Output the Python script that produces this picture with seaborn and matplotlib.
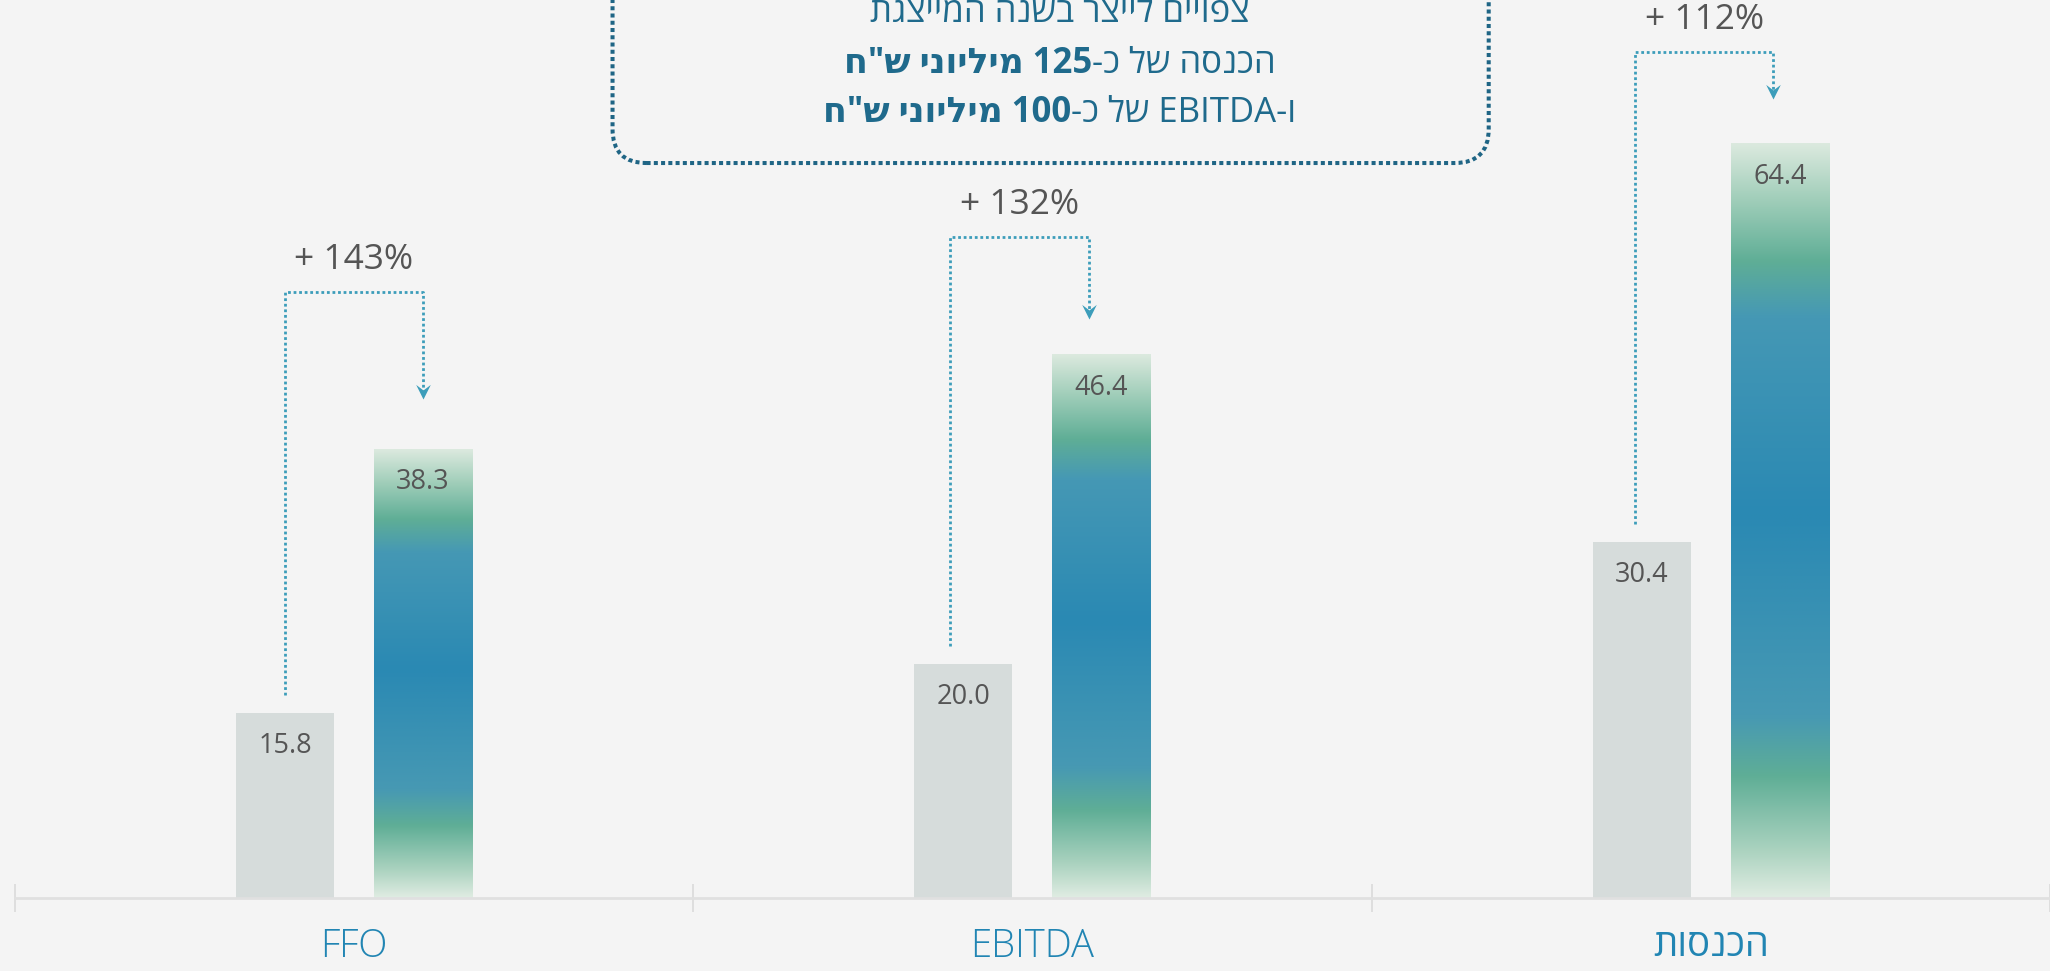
import re
import numpy as np
import pandas as pd
import seaborn as sns
import matplotlib.pyplot as plt
from matplotlib.colors import LinearSegmentedColormap
from matplotlib.patches import FancyBboxPatch
from matplotlib.path import Path

# chart values
categories = ['FFO', 'EBITDA', 'הכנסות']
series_names = ['current', 'representative']
current = [15.8, 20.0, 30.4]
representative = [38.3, 46.4, 64.4]
growth_labels = ['+ 143%', '+ 132%', '+ 112%']

# callout text, logical order; (regular part, bold part)
note_line1 = 'צפויים לייצר בשנה המייצגת'
note_lines = [('הכנסה של כ-', '125 מיליוני ש"ח'),
              ('ו-EBITDA של כ-', '100 מיליוני ש"ח')]

# bracket layout (value units relative to the bars)
bracket_rise = [13.4, 10.0, 7.8]
tip_gap = [4.3, 3.0, 3.8]
bracket_dx = [0.0, -0.019, -0.0095]

BG = '#f4f4f4'
GREY = '#d6dcdb'
TEAL = '#3c9dba'
TEXT = '#555555'
BOX = '#1f6585'
NOTE = '#1f6a8c'
CAT = '#2185b3'
FONT = ['Open Sans', 'DejaVu Sans']


def rtl(s):
    # matplotlib has no bidi support: flip the string, keep latin/digit runs LTR
    r = s[::-1]
    return re.sub(r'[A-Za-z0-9.%]+', lambda m: m.group(0)[::-1], r)


sns.set_style('white')
plt.rcParams['font.family'] = FONT

df = pd.DataFrame({
    'category': categories * 2,
    'series': [series_names[0]] * 3 + [series_names[1]] * 3,
    'value': current + representative,
})

fig = plt.figure(figsize=(20.5, 9.71), dpi=100)
fig.patch.set_facecolor(BG)
ax = fig.add_axes([0, 0, 1, 1])
ax.set_facecolor(BG)

sns.barplot(data=df, x='category', y='value', hue='series', order=categories,
            hue_order=series_names, palette=[GREY, '#2a89b3'], saturation=1,
            width=0.407, gap=0.288, linewidth=0, errorbar=None, legend=False, ax=ax)

# vertical gradient on the representative-year bars
grad = LinearSegmentedColormap.from_list('bar', [
    (0.0, '#dfece2'), (0.06, '#acd3c0'), (0.16, '#5fae96'), (0.24, '#4799b3'),
    (0.51, '#2a89b3'), (0.77, '#4598b5'), (0.845, '#5fae96'), (0.93, '#a3cfbb'),
    (1.0, '#dbe9de')])
ramp = np.linspace(0, 1, 256).reshape(-1, 1)
for bar in ax.containers[1]:
    x0, w, h = bar.get_x(), bar.get_width(), bar.get_height()
    im = ax.imshow(ramp, cmap=grad, origin='lower', aspect='auto',
                   extent=(x0, x0 + w, 0, h), interpolation='bilinear',
                   zorder=bar.get_zorder() + 0.1)
    im.set_clip_path(bar)

# value labels inside the bars
for cont in ax.containers:
    for bar in cont:
        ax.annotate(f'{bar.get_height():.1f}',
                    (bar.get_x() + bar.get_width() / 2, bar.get_height()),
                    xytext=(0, -24), textcoords='offset points', ha='center',
                    va='center', fontsize=19.5, color=TEXT, zorder=5)

# growth brackets
head = Path([(0, 0), (-0.5, 1), (0, 0.62), (0.5, 1), (0, 0)],
            [Path.MOVETO, Path.LINETO, Path.LINETO, Path.LINETO, Path.CLOSEPOLY])
for i, (g, b) in enumerate(zip(ax.containers[0], ax.containers[1])):
    xl = g.get_x() + g.get_width() / 2 + bracket_dx[i]
    xr = b.get_x() + b.get_width() / 2 + bracket_dx[i]
    y0 = g.get_height() + 1.5
    ytop = b.get_height() + bracket_rise[i]
    ytip = b.get_height() + tip_gap[i]
    ax.plot([xl, xl, xr, xr], [y0, ytop, ytop, ytip + 0.6], color=TEAL, lw=2.0,
            ls=(0, (1, 1.0)), dash_capstyle='butt', zorder=4)
    ax.plot([xr], [ytip], marker=head, ms=21, mew=0, color=TEAL, ls='none', zorder=4)
    ax.annotate(growth_labels[i], ((xl + xr) / 2, ytop), xytext=(0, 23),
                textcoords='offset points', ha='center', va='center',
                fontsize=25.5, color=TEXT)

# axes
ax.set_xlim(-0.5217, 2.4824)
ax.set_ylim(-6.23, 76.62)
for s in ['top', 'right', 'left']:
    ax.spines[s].set_visible(False)
ax.spines['bottom'].set_position(('data', 0))
ax.spines['bottom'].set_bounds(-0.5, 2.5)
ax.spines['bottom'].set_color('#e0e0e0')
ax.spines['bottom'].set_linewidth(2)
ax.set_yticks([])
ax.set_xticks(range(len(categories)), [rtl(c) for c in categories])
ax.set_xticks([-0.5, 0.5, 1.5, 2.5], minor=True)
ax.tick_params(axis='x', which='major', bottom=True, length=0, pad=21,
               labelsize=27.5, labelcolor=CAT)
ax.tick_params(axis='x', which='minor', bottom=True, direction='inout', length=20,
               width=1.2, color='#dadada')
for lab, c in zip(ax.get_xticklabels(), categories):
    if c.isascii():
        lab.set_fontweight('light')
ax.set_xlabel('')
ax.set_ylabel('')

# callout box
box = FancyBboxPatch((0.2988, 0.8321), 0.4274, 0.4,
                     boxstyle='round,pad=0,rounding_size=0.0166',
                     mutation_aspect=2050 / 971, transform=ax.transAxes,
                     fill=False, edgecolor=BOX, lw=2.9, ls=(0, (1, 0.8)), zorder=6)
ax.add_patch(box)

cx = 0.517
ax.text(cx, 1 - 22 / 971, rtl(note_line1), transform=ax.transAxes, ha='center',
        va='baseline', fontsize=25, color=NOTE)
renderer = fig.canvas.get_renderer()
for k, (normal, bold) in enumerate(note_lines):
    y = 1 - (73 + 49 * k) / 971
    tb = ax.text(0, y, rtl(bold), transform=ax.transAxes, ha='left', va='baseline',
                 fontsize=25, fontweight='bold', color=NOTE)
    tn = ax.text(0, y, rtl(normal), transform=ax.transAxes, ha='left', va='baseline',
                 fontsize=25, color=NOTE)
    wb = tb.get_window_extent(renderer).width / fig.bbox.width
    wn = tn.get_window_extent(renderer).width / fig.bbox.width
    left = cx - (wb + wn) / 2
    tb.set_x(left)
    tn.set_x(left + wb)

fig.savefig('out.png', dpi=100, facecolor=BG)
